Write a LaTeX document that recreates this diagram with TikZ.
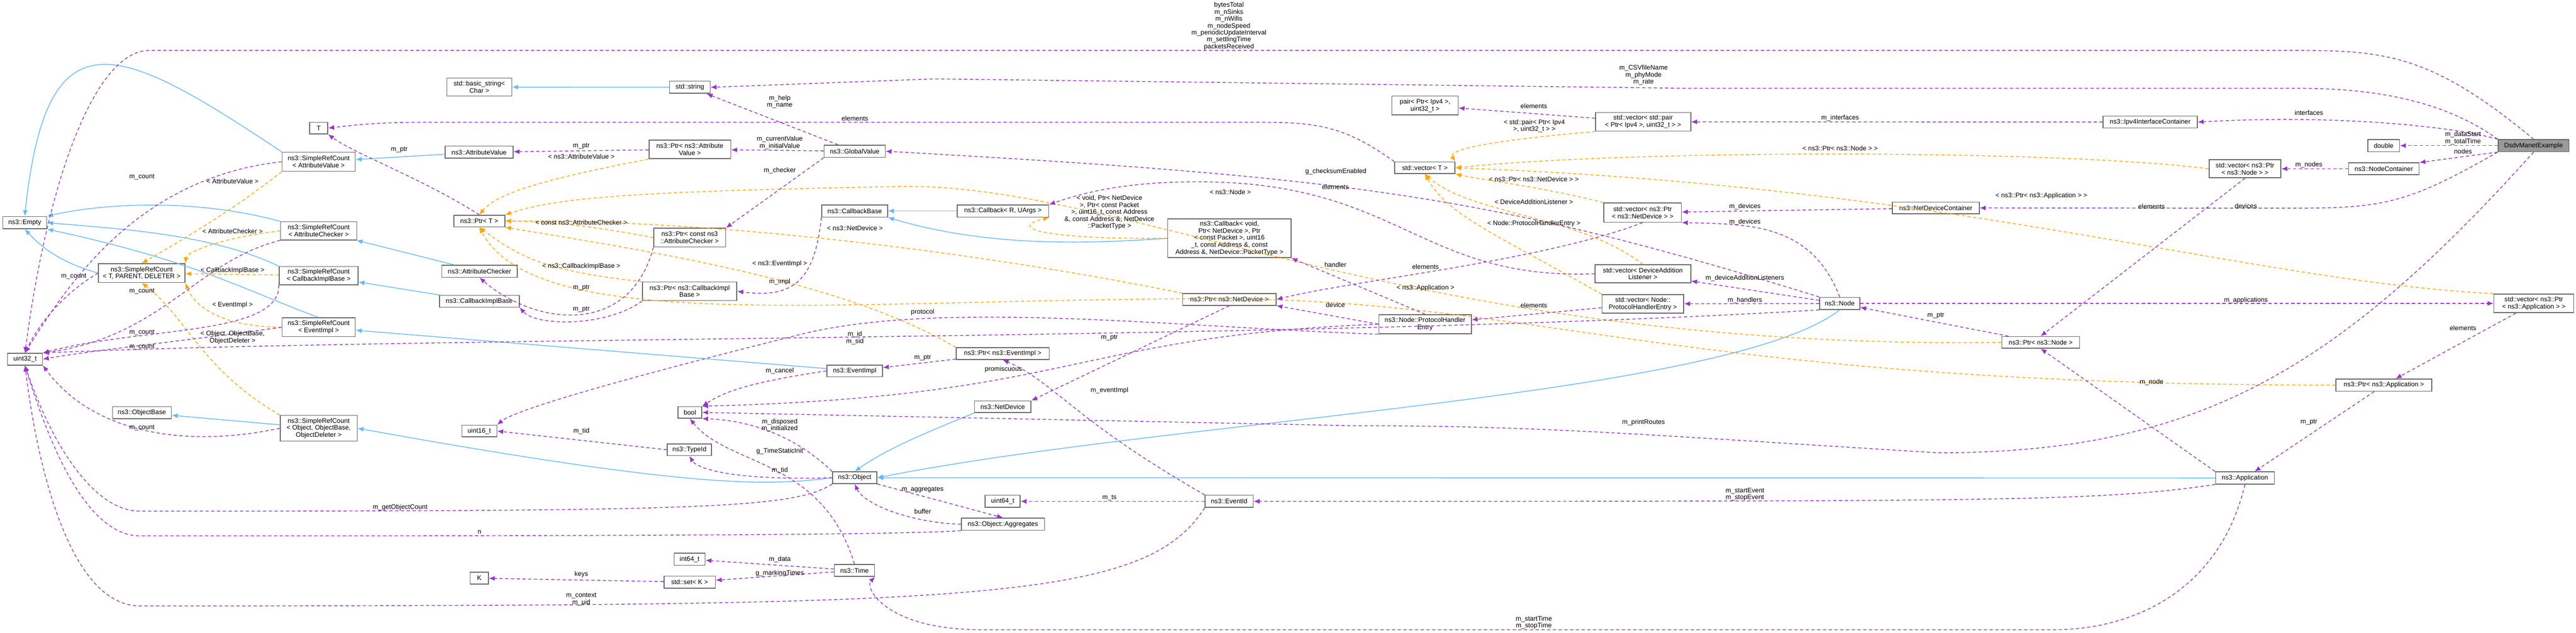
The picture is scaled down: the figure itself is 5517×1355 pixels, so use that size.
\documentclass[tikz,border=0pt]{standalone}
\usepackage{fontspec}
\setmainfont{Liberation Sans}
\usetikzlibrary{arrows.meta}
\definecolor{pu}{HTML}{9A32CD}
\definecolor{orn}{HTML}{FFA500}
\definecolor{blu}{HTML}{63B8FF}
\tikzset{
 box/.style={draw=black!60,fill=white,line width=0.5pt,inner sep=0pt,align=center,font=\fontsize{4}{4.3}\selectfont},
 lbl/.style={inner sep=0pt,align=center,font=\fontsize{4}{4.2}\selectfont},
 inh/.style={draw=blu,line width=0.45pt,-{Latex[length=3.6pt,width=3pt]}},
 use/.style={draw=pu,dashed,dash pattern=on 2pt off 1.5pt,line width=0.45pt,-{Latex[length=3.6pt,width=3pt]}},
 tpl/.style={draw=orn,dashed,dash pattern=on 2pt off 1.5pt,line width=0.45pt,-{Latex[length=3.6pt,width=3pt]}}
}
\newcommand\bx[7][]{\node[box,#1,minimum width={(#4-#2)*0.01cm},minimum height={(#5-#3)*0.01cm}] (#6) at ({(#2+#4)/2},{(#3+#5)/2}) {#7};}
\newcounter{lbc}
\newcommand\lb[3]{\stepcounter{lbc}\node[lbl] (lab\arabic{lbc}) at (#1,#2) {#3};}
\begin{document}
\begin{tikzpicture}[x=0.01cm,y=-0.01cm]
\fill[white] (0,0) rectangle (5517,1355);
\useasboundingbox (0,0) rectangle (5517,1355);
% nodes
\bx{957}{167}{1096}{206}{bs}{std::basic\_string\textless\\Char \textgreater}
\bx{663}{262}{702}{287}{T}{T}
\bx{604}{326}{761}{367}{srcAV}{ns3::SimpleRefCount\\\textless{} AttributeValue \textgreater}
\bx{953}{313}{1099}{339}{AV}{ns3::AttributeValue}
\bx{6}{464}{100}{490}{Emp}{ns3::Empty}
\bx{972}{461}{1081}{486}{PtrT}{ns3::Ptr\textless{} T \textgreater}
\bx{601}{475}{764}{514}{srcAC}{ns3::SimpleRefCount\\\textless{} AttributeChecker \textgreater}
\bx{211}{565}{396}{605}{srcTPD}{ns3::SimpleRefCount\\\textless{} T, PARENT, DELETER \textgreater}
\bx{598}{571}{767}{610}{srcCIB}{ns3::SimpleRefCount\\\textless{} CallbackImplBase \textgreater}
\bx{946}{568}{1108}{594}{AC}{ns3::AttributeChecker}
\bx{941}{633}{1112}{658}{CIB}{ns3::CallbackImplBase}
\bx{604}{681}{761}{721}{srcEI}{ns3::SimpleRefCount\\\textless{} EventImpl \textgreater}
\bx{16}{757}{91}{782}{u32}{uint32\_t}
\bx{241}{871}{367}{897}{OB}{ns3::ObjectBase}
\bx{600}{890}{765}{945}{srcObj}{ns3::SimpleRefCount\\\textless{} Object, ObjectBase,\\ObjectDeleter \textgreater}
\bx{989}{911}{1064}{936}{u16}{uint16\_t}
\bx{1007}{1226}{1046}{1251}{K}{K}
\bx{1434}{174}{1521}{200}{str}{std::string}
\bx{1765}{311}{1896}{337}{GV}{ns3::GlobalValue}
\bx{1390}{300}{1565}{340}{pAV}{ns3::Ptr\textless{} ns3::Attribute\\Value \textgreater}
\bx{1400}{489}{1554}{529}{pAC}{ns3::Ptr\textless{} const ns3\\::AttributeChecker \textgreater}
\bx{1376}{604}{1578}{644}{pCIB}{ns3::Ptr\textless{} ns3::CallbackImpl\\Base \textgreater}
\bx{1760}{439}{1901}{465}{CB}{ns3::CallbackBase}
\bx{2050}{439}{2246}{465}{CbR}{ns3::Callback\textless{} R, UArgs \textgreater}
\bx{2501}{469}{2765}{552}{CbV}{ns3::Callback\textless{} void,\\ Ptr\textless{} NetDevice \textgreater, Ptr\\\textless{} const Packet \textgreater, uint16\\\_t, const Address \&, const\\ Address \&, NetDevice::PacketType \textgreater}
\bx{2533}{629}{2733}{654}{pND}{ns3::Ptr\textless{} ns3::NetDevice \textgreater}
\bx{1771}{782}{1890}{807}{EI}{ns3::EventImpl}
\bx{2048}{745}{2247}{770}{pEI}{ns3::Ptr\textless{} ns3::EventImpl \textgreater}
\bx{1452}{871}{1503}{896}{bool}{bool}
\bx{2087}{859}{2208}{884}{ND}{ns3::NetDevice}
\bx{1429}{951}{1524}{976}{TId}{ns3::TypeId}
\bx{1783}{1011}{1878}{1036}{Obj}{ns3::Object}
\bx{2110}{1061}{2185}{1087}{u64}{uint64\_t}
\bx{2581}{1061}{2684}{1087}{EId}{ns3::EventId}
\bx{2059}{1110}{2237}{1136}{Agg}{ns3::Object::Aggregates}
\bx{1444}{1185}{1510}{1211}{i64}{int64\_t}
\bx{1422}{1234}{1532}{1260}{setK}{std::set\textless{} K \textgreater}
\bx{1787}{1209}{1873}{1235}{Time}{ns3::Time}
\bx{2981}{206}{3123}{246}{pair}{pair\textless{} Ptr\textless{} Ipv4 \textgreater,\\uint32\_t \textgreater}
\bx{3417}{241}{3621}{281}{vpair}{std::vector\textless{} std::pair\\\textless{} Ptr\textless{} Ipv4 \textgreater, uint32\_t \textgreater{} \textgreater}
\bx{2987}{347}{3116}{372}{vT}{std::vector\textless{} T \textgreater}
\bx{3435}{435}{3601}{476}{vND}{std::vector\textless{} ns3::Ptr\\\textless{} ns3::NetDevice \textgreater{} \textgreater}
\bx{4053}{433}{4239}{458}{NDC}{ns3::NetDeviceContainer}
\bx{3416}{567}{3621}{606}{vDAL}{std::vector\textless{} DeviceAddition\\Listener \textgreater}
\bx{3431}{631}{3606}{671}{vPHE}{std::vector\textless{} Node::\\ProtocolHandlerEntry \textgreater}
\bx{3897}{637}{3983}{663}{Node}{ns3::Node}
\bx{2953}{674}{3151}{715}{PHE}{ns3::Node::ProtocolHandler\\Entry}
\bx{4504}{249}{4706}{274}{Ipv4C}{ns3::Ipv4InterfaceContainer}
\bx{5071}{299}{5139}{325}{dbl}{double}
\bx[fill=black!40]{5350}{299}{5502}{325}{Dsdv}{DsdvManetExample}
\bx{5030}{349}{5181}{374}{NC}{ns3::NodeContainer}
\bx{4731}{342}{4885}{381}{vNode}{std::vector\textless{} ns3::Ptr\\\textless{} ns3::Node \textgreater{} \textgreater}
\bx{5341}{630}{5512}{670}{vApp}{std::vector\textless{} ns3::Ptr\\\textless{} ns3::Application \textgreater{} \textgreater}
\bx{4287}{721}{4454}{746}{pNode}{ns3::Ptr\textless{} ns3::Node \textgreater}
\bx{5003}{812}{5208}{838}{pApp}{ns3::Ptr\textless{} ns3::Application \textgreater}
\bx{4745}{1011}{4871}{1037}{App}{ns3::Application}
% inheritance
\draw[inh] (srcAV.north west) .. controls (250,90) and (100,20) .. (Emp.north);
\draw[inh] (AV) -- (srcAV);
\draw[inh] (srcAC.north west) .. controls (400,420) and (200,440) .. (Emp.north east);
\draw[inh] (srcCIB.north west) .. controls (450,500) and (250,490) .. (Emp.east);
\draw[inh] (srcEI.north) .. controls (520,620) and (420,560) .. (Emp.south east);
\draw[inh] (srcTPD.west) .. controls (120,560) and (80,520) .. (Emp.south);
\draw[inh] (AC) -- (srcAC);
\draw[inh] (CIB) -- (srcCIB);
\draw[inh] (EI) -- (srcEI);
\draw[inh] (srcObj) -- (OB);
\draw[inh] (Obj.west) .. controls (1650,1040) and (1500,1050) .. (srcObj.east);
\draw[inh] (str) -- (bs);
\draw[inh] (CbR) -- (CB);
\draw[inh] (CbV.west) .. controls (2300,525) and (2100,525) .. (CB.south east);
\draw[inh] (ND.south west) .. controls (2000,920) and (1900,960) .. (Obj.north);
\draw[inh] (Node.south) .. controls (3700,850) and (2500,900) .. (Obj.east);
\draw[inh] (App.west) -- (Obj.east);
% templates
\draw[tpl] (srcAV.south west) .. controls (500,450) and (380,520) .. (srcTPD.north);
\draw[tpl] (srcAC.west) .. controls (470,510) and (400,540) .. (srcTPD.north east);
\draw[tpl] (srcCIB) -- (srcTPD);
\draw[tpl] (srcEI.west) .. controls (450,700) and (410,640) .. (srcTPD.south east);
\draw[tpl] (srcObj.north west) .. controls (430,790) and (400,680) .. (srcTPD.south);
\draw[tpl] (pAV.south west) .. controls (1130,390) and (1060,420) .. (PtrT.north);
\draw[tpl] (pAC.west) .. controls (1300,490) and (1200,475) .. (PtrT.east);
\draw[tpl] (pCIB.north west) .. controls (1150,580) and (1100,540) .. (PtrT.south);
\draw[tpl] (pEI.north west) .. controls (1800,600) and (1400,540) .. (PtrT.south east);
\draw[tpl] (pND.north west) .. controls (2200,560) and (1600,470) .. (PtrT.east);
\draw[tpl] (pNode.west) .. controls (3000,750) and (2400,380) .. (1900,400) .. controls (1400,410) and (1200,420) .. (PtrT.north east);
\draw[tpl] (pApp.west) .. controls (3600,825) and (3300,640) .. (2600,640) .. controls (1800,640) and (1150,720) .. (PtrT.south);
\draw[tpl] (CbV.west) .. controls (2250,513) and (2150,490) .. (CbR.south east);
\draw[tpl] (vpair.south west) .. controls (3200,300) and (3100,320) .. (vT.north east);
\draw[tpl] (vNode.west) .. controls (4400,320) and (3500,320) .. (vT.east);
\draw[tpl] (vND.north west) .. controls (3300,400) and (3200,390) .. (vT.south east);
\draw[tpl] (vDAL.north) .. controls (3380,460) and (3150,460) .. (vT.south);
\draw[tpl] (vPHE.north west) .. controls (3200,500) and (3100,460) .. (vT.south);
\draw[tpl] (vApp.north west) .. controls (4800,600) and (4200,400) .. (vT.east);
% usage
\draw[use] (srcAV.west) .. controls (300,380) and (150,600) .. (u32.north);
\draw[use] (srcAC.south west) .. controls (420,560) and (350,720) .. (u32.north east);
\draw[use] (srcTPD.west) .. controls (150,620) and (90,680) .. (u32.north);
\draw[use] (srcCIB.south west) .. controls (600,720) and (300,700) .. (u32.north east);
\draw[use] (srcEI.west) .. controls (400,730) and (200,750) .. (u32.east);
\draw[use] (srcObj.west) .. controls (400,960) and (200,930) .. (u32.south east);
\draw[use] (PtrT.north) .. controls (900,380) and (760,330) .. (T.south east);
\draw[use] (pAV) -- (AV);
\draw[use] (pAC.south west) .. controls (1350,720) and (1150,700) .. (AC.south);
\draw[use] (pCIB.south west) .. controls (1300,700) and (1150,700) .. (CIB.south east);
\draw[use] (vT.north west) .. controls (2880,270) and (2820,262) .. (2700,262) -- (900,262) .. controls (800,262) and (740,270) .. (T.east);
\draw[use] (GV) -- (str);
\draw[use] (GV) -- (pAV);
\draw[use] (GV.south west) -- (pAC.north east);
\draw[use] (Node.north west) .. controls (3200,420) and (2900,380) .. (GV.east);
\draw[use] (CB.south west) .. controls (1745,600) and (1700,640) .. (pCIB.east);
\draw[use] (PHE.north) -- (CbV.south east);
\draw[use] (PHE.west) -- (pND.south east);
\draw[use] (PHE.south west) .. controls (2500,700) and (2000,640) .. (1700,720) .. controls (1300,820) and (1100,880) .. (u16.north east);
\draw[use] (PHE.west) .. controls (2300,720) and (2300,850) .. (bool.north east);
\draw[use] (vND.south) .. controls (3300,560) and (2900,600) .. (pND.east);
\draw[use] (pND.south) -- (ND.north east);
\draw[use] (pEI) -- (EI);
\draw[use] (EI.west) .. controls (1600,820) and (1550,840) .. (bool.north east);
\draw[use] (Node.south west) .. controls (2800,730) and (900,720) .. (u32.north east);
\draw[use] (Obj.north west) .. controls (1700,930) and (1600,900) .. (bool.south east);
\draw[use] (Obj.west) .. controls (1550,1030) and (1490,1000) .. (TId.south);
\draw[use] (Obj.south east) -- (Agg.north);
\draw[use] (Agg.west) .. controls (1950,1120) and (1850,1080) .. (Obj.south);
\draw[use] (Agg.south west) .. controls (1900,1148) and (1000,1148) .. (300,1148) .. controls (200,1148) and (120,1000) .. (u32.south);
\draw[use] (Obj.south west) .. controls (1700,1090) and (1500,1095) .. (300,1095) .. controls (200,1095) and (110,950) .. (u32.south);
\draw[use] (TId.west) -- (u16.east);
\draw[use] (Time.north) .. controls (1760,980) and (1560,1000) .. (bool.south);
\draw[use] (Time) -- (i64);
\draw[use] (Time) -- (setK);
\draw[use] (setK) -- (K);
\draw[use] (EId) -- (u64);
\draw[use] (EId.north west) .. controls (2300,900) and (2260,820) .. (pEI.south);
\draw[use] (EId.south west) .. controls (2450,1290) and (2100,1298) .. (300,1298) .. controls (150,1298) and (80,1000) .. (u32.south);
\draw[use] (App.south west) .. controls (4500,1074) and (4300,1074) .. (EId.east);
\draw[use] (App.south) .. controls (4750,1280) and (4550,1349) .. (4400,1349) -- (2100,1349) .. controls (1900,1349) and (1850,1260) .. (Time.south east);
\draw[use] (App.north west) -- (pNode.south);
\draw[use] (pNode) -- (Node);
\draw[use] (pApp) -- (App);
\draw[use] (vApp) -- (pApp);
\draw[use] (vNode.south) -- (pNode.north);
\draw[use] (NC) -- (vNode);
\draw[use] (NDC) -- (vND);
\draw[use] (Node.north) .. controls (3880,480) and (3750,480) .. (vND.south east);
\draw[use] (Node) -- (vDAL);
\draw[use] (Node) -- (vPHE);
\draw[use] (vPHE) -- (PHE);
\draw[use] (vDAL.west) .. controls (3050,600) and (3000,400) .. (2600,390) .. controls (2400,385) and (2300,420) .. (CbR.north east);
\draw[use] (Node.east) -- (vApp.west);
\draw[use] (Ipv4C) -- (vpair);
\draw[use] (vpair) -- (pair);
\draw[use] (Dsdv.north) .. controls (5200,110) and (5100,108) .. (4900,108) -- (320,108) .. controls (200,108) and (100,400) .. (u32.north);
\draw[use] (Dsdv.north west) .. controls (5200,190) and (5000,189) .. (4900,189) -- (3600,189) -- (2000,169) -- (str.east);
\draw[use] (Dsdv.north west) .. controls (5250,270) and (5000,245) .. (Ipv4C.east);
\draw[use] (Dsdv) -- (dbl);
\draw[use] (Dsdv.south west) -- (NC.north east);
\draw[use] (Dsdv.south west) .. controls (5150,440) and (5100,446) .. (4900,446) -- (NDC.east);
\draw[use] (Dsdv.south) .. controls (5000,800) and (4700,970) .. (4150,970) .. controls (3500,930) and (3300,912) .. (2900,912) -- (bool.east);
% labels
\lb{304}{379}{m\_count}
\lb{498}{388}{\textless{} AttributeValue \textgreater}
\lb{498}{495}{\textless{} AttributeChecker \textgreater}
\lb{498}{579}{\textless{} CallbackImplBase \textgreater}
\lb{158}{592}{m\_count}
\lb{304}{624}{m\_count}
\lb{498}{653}{\textless{} EventImpl \textgreater}
\lb{304}{712}{m\_count}
\lb{498}{723}{\textless{} Object, ObjectBase,\\ObjectDeleter \textgreater}
\lb{304}{743}{m\_count}
\lb{304}{916}{m\_count}
\lb{855}{321}{m\_ptr}
\lb{1245}{313}{m\_ptr}
\lb{1245}{335}{\textless{} ns3::AttributeValue \textgreater}
\lb{1245}{477}{\textless{} const ns3::AttributeChecker \textgreater}
\lb{1245}{571}{\textless{} ns3::CallbackImplBase \textgreater}
\lb{1245}{617}{m\_ptr}
\lb{1245}{663}{m\_ptr}
\lb{1245}{924}{m\_tid}
\lb{857}{1087}{m\_getObjectCount}
\lb{1027}{1140}{n}
\lb{1245}{1231}{keys}
\lb{1245}{1284}{m\_context\\m\_uid}
\lb{2632}{56}{bytesTotal\\m\_nSinks\\m\_nWifis\\m\_nodeSpeed\\m\_periodicUpdateInterval\\m\_settlingTime\\packetsReceived}
\lb{1670}{218}{m\_help\\m\_name}
\lb{1831}{254}{elements}
\lb{1670}{306}{m\_currentValue\\m\_initialValue}
\lb{1670}{365}{m\_checker}
\lb{2376}{455}{\textless{} void, Ptr\textless{} NetDevice\\\textgreater, Ptr\textless{} const Packet\\\textgreater, uint16\_t, const Address\\\&, const Address \&, NetDevice\\::PacketType \textgreater}
\lb{2635}{412}{\textless{} ns3::Node \textgreater}
\lb{1831}{489}{\textless{} ns3::NetDevice \textgreater}
\lb{1670}{565}{\textless{} ns3::EventImpl \textgreater}
\lb{1670}{604}{m\_impl}
\lb{1976}{669}{protocol}
\lb{2861}{368}{g\_checksumEnabled}
\lb{1831}{724}{m\_id\\m\_sid}
\lb{2376}{723}{m\_ptr}
\lb{1976}{767}{m\_ptr}
\lb{1670}{795}{m\_cancel}
\lb{2149}{791}{promiscuous}
\lb{2376}{837}{m\_eventImpl}
\lb{1670}{911}{m\_disposed\\m\_initialized}
\lb{1670}{967}{g\_TimeStaticInit}
\lb{1670}{1008}{m\_tid}
\lb{1976}{1049}{m\_aggregates}
\lb{1976}{1096}{buffer}
\lb{2376}{1067}{m\_ts}
\lb{1670}{1199}{m\_data}
\lb{1670}{1228}{g\_markingTimes}
\lb{3520}{161}{m\_CSVfileName\\m\_phyMode\\m\_rate}
\lb{3285}{227}{elements}
\lb{3286}{270}{\textless{} std::pair\textless{} Ptr\textless{} Ipv4\\\textgreater, uint32\_t \textgreater{} \textgreater}
\lb{3941}{253}{m\_interfaces}
\lb{3941}{318}{\textless{} ns3::Ptr\textless{} ns3::Node \textgreater{} \textgreater}
\lb{3285}{384}{\textless{} ns3::Ptr\textless{} ns3::NetDevice \textgreater{} \textgreater}
\lb{3285}{432}{\textless{} DeviceAdditionListener \textgreater}
\lb{3285}{479}{\textless{} Node::ProtocolHandlerEntry \textgreater}
\lb{3737}{443}{m\_devices}
\lb{3737}{476}{m\_devices}
\lb{3737}{596}{m\_deviceAdditionListeners}
\lb{3737}{643}{m\_handlers}
\lb{2860}{400}{elements}
\lb{2860}{567}{handler}
\lb{3053}{571}{elements}
\lb{3053}{617}{\textless{} ns3::Application \textgreater}
\lb{2860}{653}{device}
\lb{3285}{654}{elements}
\lb{4146}{676}{m\_ptr}
\lb{3520}{905}{m\_printRoutes}
\lb{3737}{1059}{m\_startEvent\\m\_stopEvent}
\lb{3285}{1334}{m\_startTime\\m\_stopTime}
\lb{4945}{242}{interfaces}
\lb{5275}{296}{m\_dataStart\\m\_totalTime}
\lb{5275}{324}{nodes}
\lb{4945}{353}{m\_nodes}
\lb{4810}{441}{devices}
\lb{4608}{442}{elements}
\lb{4372}{420}{\textless{} ns3::Ptr\textless{} ns3::Application \textgreater{} \textgreater}
\lb{4810}{643}{m\_applications}
\lb{5275}{703}{elements}
\lb{4608}{819}{m\_node}
\lb{4945}{904}{m\_ptr}
\end{tikzpicture}
\end{document}
